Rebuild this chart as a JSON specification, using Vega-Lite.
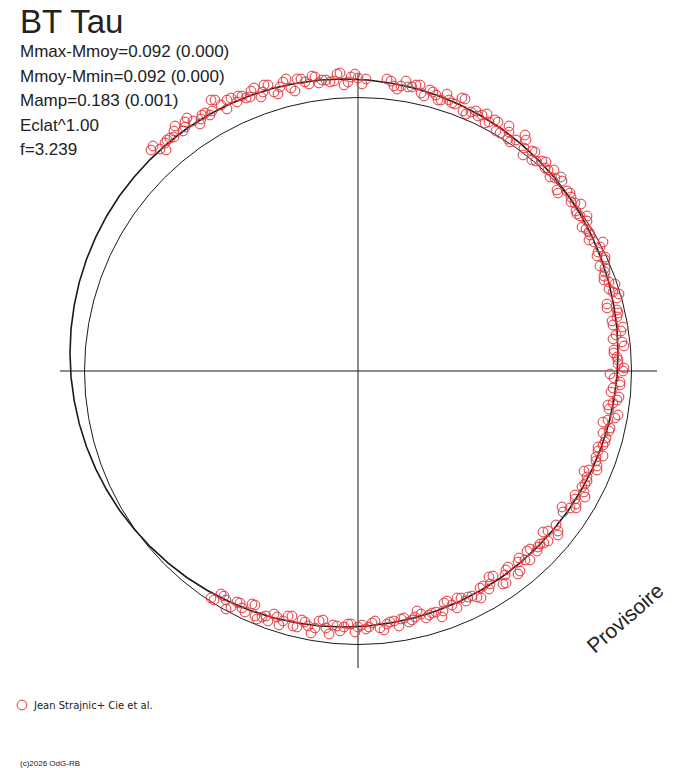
{
  "$schema": "https://vega.github.io/schema/vega-lite/v6.json",
  "description": "BT Tau phase diagram",
  "width": 688,
  "height": 768,
  "autosize": {"type": "fit", "contains": "padding"},
  "padding": 0,
  "background": "white",
  "config": {"view": {"stroke": null}},
  "datasets": {
    "one": [{}],
    "ref": [
      {"a":0,"x":273.5,"y":0},{"a":5,"x":272.5,"y":23.8},{"a":10,"x":269.3,"y":47.5},{"a":15,"x":264.2,"y":70.8},
      {"a":20,"x":257,"y":93.5},{"a":25,"x":247.9,"y":115.6},{"a":30,"x":236.9,"y":136.8},{"a":35,"x":224.1,"y":156.9},
      {"a":40,"x":209.5,"y":175.8},{"a":45,"x":193.4,"y":193.4},{"a":50,"x":175.8,"y":209.5},{"a":55,"x":156.9,"y":224.1},
      {"a":60,"x":136.8,"y":236.9},{"a":65,"x":115.6,"y":247.9},{"a":70,"x":93.5,"y":257},{"a":75,"x":70.8,"y":264.2},
      {"a":80,"x":47.5,"y":269.3},{"a":85,"x":23.8,"y":272.5},{"a":90,"x":0,"y":273.5},{"a":95,"x":-23.8,"y":272.5},
      {"a":100,"x":-47.5,"y":269.3},{"a":105,"x":-70.8,"y":264.2},{"a":110,"x":-93.5,"y":257},{"a":115,"x":-115.6,"y":247.9},
      {"a":120,"x":-136.8,"y":236.9},{"a":125,"x":-156.9,"y":224.1},{"a":130,"x":-175.8,"y":209.5},{"a":135,"x":-193.4,"y":193.4},
      {"a":140,"x":-209.5,"y":175.8},{"a":145,"x":-224.1,"y":156.9},{"a":150,"x":-236.9,"y":136.8},{"a":155,"x":-247.9,"y":115.6},
      {"a":160,"x":-257,"y":93.5},{"a":165,"x":-264.2,"y":70.8},{"a":170,"x":-269.3,"y":47.5},{"a":175,"x":-272.5,"y":23.8},
      {"a":180,"x":-273.5,"y":0},{"a":185,"x":-272.5,"y":-23.8},{"a":190,"x":-269.3,"y":-47.5},{"a":195,"x":-264.2,"y":-70.8},
      {"a":200,"x":-257,"y":-93.5},{"a":205,"x":-247.9,"y":-115.6},{"a":210,"x":-236.9,"y":-136.8},{"a":215,"x":-224.1,"y":-156.9},
      {"a":220,"x":-209.5,"y":-175.8},{"a":225,"x":-193.4,"y":-193.4},{"a":230,"x":-175.8,"y":-209.5},{"a":235,"x":-156.9,"y":-224.1},
      {"a":240,"x":-136.8,"y":-236.9},{"a":245,"x":-115.6,"y":-247.9},{"a":250,"x":-93.5,"y":-257},{"a":255,"x":-70.8,"y":-264.2},
      {"a":260,"x":-47.5,"y":-269.3},{"a":265,"x":-23.8,"y":-272.5},{"a":270,"x":0,"y":-273.5},{"a":275,"x":23.8,"y":-272.5},
      {"a":280,"x":47.5,"y":-269.3},{"a":285,"x":70.8,"y":-264.2},{"a":290,"x":93.5,"y":-257},{"a":295,"x":115.6,"y":-247.9},
      {"a":300,"x":136.8,"y":-236.9},{"a":305,"x":156.9,"y":-224.1},{"a":310,"x":175.8,"y":-209.5},{"a":315,"x":193.4,"y":-193.4},
      {"a":320,"x":209.5,"y":-175.8},{"a":325,"x":224.1,"y":-156.9},{"a":330,"x":236.9,"y":-136.8},{"a":335,"x":247.9,"y":-115.6},
      {"a":340,"x":257,"y":-93.5},{"a":345,"x":264.2,"y":-70.8},{"a":350,"x":269.3,"y":-47.5},{"a":355,"x":272.5,"y":-23.8},
      {"a":360,"x":273.5,"y":0}
    ],
    "fit": [
      {"a":0,"x":260,"y":18},{"a":5,"x":259,"y":41.9},{"a":10,"x":255.8,"y":65.6},{"a":15,"x":250.7,"y":88.9},
      {"a":20,"x":243.5,"y":111.7},{"a":25,"x":234.3,"y":133.8},{"a":30,"x":223.3,"y":155},{"a":35,"x":210.5,"y":175.2},
      {"a":40,"x":195.9,"y":194.1},{"a":45,"x":179.7,"y":211.7},{"a":50,"x":162.1,"y":227.9},{"a":55,"x":143.2,"y":242.5},
      {"a":60,"x":123,"y":255.3},{"a":65,"x":101.8,"y":266.3},{"a":70,"x":79.7,"y":275.5},{"a":75,"x":56.9,"y":282.7},
      {"a":80,"x":33.6,"y":287.8},{"a":85,"x":9.9,"y":291},{"a":90,"x":-14,"y":292},{"a":95,"x":-37.9,"y":291},
      {"a":100,"x":-61.6,"y":287.8},{"a":105,"x":-84.9,"y":282.7},{"a":110,"x":-107.7,"y":275.5},{"a":115,"x":-129.8,"y":266.3},
      {"a":120,"x":-151,"y":255.3},{"a":125,"x":-171.2,"y":242.5},{"a":130,"x":-190.1,"y":227.9},{"a":135,"x":-207.7,"y":211.7},
      {"a":140,"x":-223.9,"y":194.1},{"a":145,"x":-238.5,"y":175.2},{"a":150,"x":-251.3,"y":155},{"a":155,"x":-262.3,"y":133.8},
      {"a":160,"x":-271.5,"y":111.7},{"a":165,"x":-278.7,"y":88.9},{"a":170,"x":-283.8,"y":65.6},{"a":175,"x":-287,"y":41.9},
      {"a":180,"x":-288,"y":18},{"a":185,"x":-287,"y":-5.9},{"a":190,"x":-283.8,"y":-29.6},{"a":195,"x":-278.7,"y":-52.9},
      {"a":200,"x":-271.5,"y":-75.7},{"a":205,"x":-262.3,"y":-97.8},{"a":210,"x":-251.3,"y":-119},{"a":215,"x":-238.5,"y":-139.2},
      {"a":220,"x":-223.9,"y":-158.1},{"a":225,"x":-207.7,"y":-175.7},{"a":230,"x":-190.1,"y":-191.9},{"a":235,"x":-171.2,"y":-206.5},
      {"a":240,"x":-151,"y":-219.3},{"a":245,"x":-129.8,"y":-230.3},{"a":250,"x":-107.7,"y":-239.5},{"a":255,"x":-84.9,"y":-246.7},
      {"a":260,"x":-61.6,"y":-251.8},{"a":265,"x":-37.9,"y":-255},{"a":270,"x":-14,"y":-256},{"a":275,"x":9.9,"y":-255},
      {"a":280,"x":33.6,"y":-251.8},{"a":285,"x":56.9,"y":-246.7},{"a":290,"x":79.7,"y":-239.5},{"a":295,"x":101.8,"y":-230.3},
      {"a":300,"x":123,"y":-219.3},{"a":305,"x":143.2,"y":-206.5},{"a":310,"x":162.1,"y":-191.9},{"a":315,"x":179.7,"y":-175.7},
      {"a":320,"x":195.9,"y":-158.1},{"a":325,"x":210.5,"y":-139.2},{"a":330,"x":223.3,"y":-119},{"a":335,"x":234.3,"y":-97.8},
      {"a":340,"x":243.5,"y":-75.7},{"a":345,"x":250.7,"y":-52.9},{"a":350,"x":255.8,"y":-29.6},{"a":355,"x":259,"y":-5.9},
      {"a":360,"x":260,"y":18}
    ],
    "obs": [
      {"x":-207,"y":221,"src":"A"},{"x":-198,"y":222,"src":"A"},{"x":-193,"y":228,"src":"A"},{"x":-188,"y":233,"src":"A"},
      {"x":-184,"y":240,"src":"A"},{"x":-175,"y":240,"src":"A"},{"x":-173,"y":249,"src":"A"},{"x":-165,"y":250,"src":"A"},
      {"x":-157,"y":252,"src":"A"},{"x":-153,"y":258,"src":"A"},{"x":-146,"y":260,"src":"A"},{"x":-143,"y":271,"src":"A"},
      {"x":-131,"y":262,"src":"A"},{"x":-127,"y":273,"src":"A"},{"x":-120,"y":275,"src":"A"},{"x":-112,"y":273,"src":"A"},
      {"x":-107,"y":280,"src":"A"},{"x":-97,"y":274,"src":"A"},{"x":-94,"y":286,"src":"A"},{"x":-84,"y":279,"src":"A"},
      {"x":-78,"y":284,"src":"A"},{"x":-72,"y":292,"src":"A"},{"x":-63,"y":280,"src":"A"},{"x":-57,"y":292,"src":"A"},
      {"x":-49,"y":287,"src":"A"},{"x":-43,"y":294,"src":"A"},{"x":-36,"y":291,"src":"B"},{"x":-28,"y":289,"src":"A"},
      {"x":-21,"y":297,"src":"A"},{"x":-14,"y":286,"src":"A"},{"x":-7,"y":294,"src":"A"},{"x":0,"y":293,"src":"A"},
      {"x":8,"y":292,"src":"A"},{"x":29,"y":292,"src":"A"},{"x":36,"y":285,"src":"A"},{"x":43,"y":285,"src":"A"},
      {"x":50,"y":284,"src":"B"},{"x":58,"y":286,"src":"A"},{"x":63,"y":278,"src":"A"},{"x":72,"y":281,"src":"A"},
      {"x":78,"y":276,"src":"A"},{"x":83,"y":271,"src":"A"},{"x":91,"y":271,"src":"A"},{"x":97,"y":267,"src":"A"},
      {"x":107,"y":272,"src":"A"},{"x":108,"y":257,"src":"A"},{"x":118,"y":260,"src":"A"},{"x":124,"y":256,"src":"A"},
      {"x":127,"y":248,"src":"A"},{"x":137,"y":251,"src":"A"},{"x":138,"y":240,"src":"A"},{"x":151,"y":245,"src":"A"},
      {"x":150,"y":232,"src":"A"},{"x":158,"y":231,"src":"A"},{"x":168,"y":231,"src":"A"},{"x":165,"y":216,"src":"A"},
      {"x":177,"y":219,"src":"A"},{"x":178,"y":210,"src":"A"},{"x":188,"y":209,"src":"A"},{"x":190,"y":201,"src":"A"},
      {"x":192,"y":194,"src":"A"},{"x":203,"y":194,"src":"B"},{"x":199,"y":181,"src":"A"},{"x":209,"y":180,"src":"A"},
      {"x":213,"y":174,"src":"A"},{"x":217,"y":168,"src":"A"},{"x":218,"y":160,"src":"A"},{"x":222,"y":155,"src":"A"},
      {"x":229,"y":150,"src":"A"},{"x":228,"y":142,"src":"A"},{"x":232,"y":136,"src":"A"},{"x":236,"y":129,"src":"A"},
      {"x":242,"y":124,"src":"A"},{"x":239,"y":115,"src":"A"},{"x":247,"y":111,"src":"A"},{"x":247,"y":103,"src":"B"},
      {"x":246,"y":95,"src":"A"},{"x":251,"y":89,"src":"A"},{"x":251,"y":82,"src":"A"},{"x":261,"y":77,"src":"A"},
      {"x":249,"y":67,"src":"A"},{"x":259,"y":61,"src":"A"},{"x":259,"y":54,"src":"A"},{"x":255,"y":46,"src":"A"},
      {"x":263,"y":40,"src":"A"},{"x":255,"y":32,"src":"A"},{"x":266,"y":25,"src":"A"},{"x":256,"y":18,"src":"A"},
      {"x":260,"y":11,"src":"A"},{"x":266,"y":3,"src":"A"},{"x":252,"y":-3,"src":"A"},{"x":262,"y":-11,"src":"A"},
      {"x":255,"y":-17,"src":"A"},{"x":261,"y":-26,"src":"A"},{"x":255,"y":-32,"src":"A"},{"x":251,"y":-38,"src":"A"},
      {"x":257,"y":-47,"src":"A"},{"x":245,"y":-51,"src":"A"},{"x":251,"y":-60,"src":"A"},{"x":248,"y":-67,"src":"A"},
      {"x":245,"y":-74,"src":"A"},{"x":240,"y":-80,"src":"A"},{"x":238,"y":-86,"src":"A"},{"x":239,"y":-95,"src":"A"},
      {"x":231,"y":-99,"src":"A"},{"x":229,"y":-106,"src":"A"},{"x":227,"y":-113,"src":"A"},{"x":226,"y":-121,"src":"A"},
      {"x":217,"y":-124,"src":"A"},{"x":218,"y":-133,"src":"A"},{"x":212,"y":-137,"src":"A"},{"x":205,"y":-141,"src":"B"},
      {"x":198,"y":-154,"src":"A"},{"x":200,"y":-164,"src":"A"},{"x":185,"y":-161,"src":"A"},{"x":186,"y":-172,"src":"A"},
      {"x":180,"y":-176,"src":"A"},{"x":172,"y":-178,"src":"A"},{"x":172,"y":-189,"src":"A"},{"x":161,"y":-187,"src":"A"},
      {"x":162,"y":-200,"src":"A"},{"x":150,"y":-196,"src":"A"},{"x":147,"y":-204,"src":"A"},{"x":145,"y":-213,"src":"A"},
      {"x":131,"y":-206,"src":"A"},{"x":131,"y":-218,"src":"A"},{"x":122,"y":-217,"src":"A"},{"x":119,"y":-226,"src":"A"},
      {"x":110,"y":-226,"src":"B"},{"x":103,"y":-227,"src":"A"},{"x":99,"y":-237,"src":"A"},{"x":89,"y":-230,"src":"A"},
      {"x":85,"y":-240,"src":"A"},{"x":78,"y":-241,"src":"A"},{"x":71,"y":-244,"src":"A"},{"x":63,"y":-243,"src":"A"},
      {"x":57,"y":-246,"src":"A"},{"x":51,"y":-251,"src":"B"},{"x":43,"y":-248,"src":"A"},{"x":36,"y":-250,"src":"A"},
      {"x":29,"y":-253,"src":"A"},{"x":22,"y":-257,"src":"A"},{"x":14,"y":-252,"src":"A"},{"x":8,"y":-258,"src":"A"},
      {"x":0,"y":-256,"src":"A"},{"x":-7,"y":-253,"src":"A"},{"x":-14,"y":-256,"src":"A"},{"x":-21,"y":-255,"src":"A"},
      {"x":-29,"y":-263,"src":"A"},{"x":-35,"y":-249,"src":"A"},{"x":-43,"y":-257,"src":"A"},{"x":-50,"y":-255,"src":"A"},
      {"x":-56,"y":-249,"src":"A"},{"x":-65,"y":-255,"src":"A"},{"x":-70,"y":-245,"src":"A"},{"x":-79,"y":-254,"src":"A"},
      {"x":-84,"y":-243,"src":"A"},{"x":-92,"y":-245,"src":"A"},{"x":-101,"y":-248,"src":"A"},{"x":-103,"y":-234,"src":"A"},
      {"x":-113,"y":-241,"src":"A"},{"x":-118,"y":-232,"src":"A"},{"x":-127,"y":-236,"src":"A"},{"x":-132,"y":-229,"src":"B"},
      {"x":-137,"y":-223,"src":"A"},{"x":-147,"y":-227,"src":"A"},
      {"x":-205,"y":225,"src":"A"},{"x":-192,"y":221,"src":"A"},{"x":-191,"y":231,"src":"A"},{"x":-184,"y":234,"src":"A"},
      {"x":-183,"y":245,"src":"A"},{"x":-173,"y":244,"src":"A"},{"x":-171,"y":253,"src":"A"},{"x":-158,"y":247,"src":"A"},
      {"x":-156,"y":256,"src":"A"},{"x":-148,"y":256,"src":"A"},{"x":-147,"y":271,"src":"A"},{"x":-137,"y":266,"src":"A"},
      {"x":-131,"y":271,"src":"A"},{"x":-121,"y":269,"src":"A"},{"x":-116,"y":275,"src":"A"},{"x":-108,"y":274,"src":"A"},
      {"x":-104,"y":283,"src":"A"},{"x":-95,"y":279,"src":"A"},{"x":-90,"y":286,"src":"A"},{"x":-80,"y":277,"src":"A"},
      {"x":-75,"y":289,"src":"A"},{"x":-67,"y":283,"src":"A"},{"x":-61,"y":292,"src":"A"},{"x":-53,"y":289,"src":"A"},
      {"x":-46,"y":295,"src":"A"},{"x":-39,"y":288,"src":"A"},{"x":-32,"y":291,"src":"A"},{"x":-24,"y":290,"src":"A"},
      {"x":-18,"y":298,"src":"A"},{"x":-10,"y":289,"src":"A"},{"x":-3,"y":297,"src":"A"},{"x":4,"y":287,"src":"A"},
      {"x":33,"y":290,"src":"A"},{"x":39,"y":282,"src":"A"},{"x":48,"y":290,"src":"A"},{"x":54,"y":284,"src":"A"},
      {"x":62,"y":286,"src":"A"},{"x":66,"y":275,"src":"A"},{"x":75,"y":279,"src":"A"},{"x":80,"y":271,"src":"A"},
      {"x":89,"y":277,"src":"A"},{"x":94,"y":268,"src":"A"},{"x":104,"y":273,"src":"A"},{"x":105,"y":260,"src":"A"},
      {"x":113,"y":259,"src":"A"},{"x":120,"y":255,"src":"A"},{"x":129,"y":257,"src":"A"},{"x":131,"y":249,"src":"A"},
      {"x":140,"y":249,"src":"A"},{"x":142,"y":238,"src":"A"},{"x":151,"y":239,"src":"A"},{"x":152,"y":229,"src":"A"},
      {"x":167,"y":236,"src":"A"},{"x":166,"y":223,"src":"A"},{"x":174,"y":220,"src":"A"},{"x":174,"y":211,"src":"A"},
      {"x":184,"y":210,"src":"A"},{"x":187,"y":203,"src":"A"},{"x":196,"y":201,"src":"A"},{"x":197,"y":193,"src":"A"},
      {"x":204,"y":190,"src":"A"},{"x":200,"y":178,"src":"A"},{"x":212,"y":178,"src":"A"},{"x":213,"y":169,"src":"A"},
      {"x":223,"y":167,"src":"A"},{"x":219,"y":157,"src":"A"},{"x":229,"y":155,"src":"A"},{"x":224,"y":144,"src":"A"},
      {"x":231,"y":139,"src":"A"},{"x":231,"y":131,"src":"A"},{"x":245,"y":129,"src":"A"},{"x":240,"y":119,"src":"A"},
      {"x":247,"y":114,"src":"A"},{"x":242,"y":105,"src":"A"},{"x":247,"y":99,"src":"A"},{"x":246,"y":91,"src":"A"},
      {"x":257,"y":87,"src":"A"},{"x":255,"y":79,"src":"A"},{"x":259,"y":73,"src":"A"},{"x":249,"y":63,"src":"A"},
      {"x":260,"y":58,"src":"A"},{"x":254,"y":50,"src":"A"},{"x":265,"y":44,"src":"A"},{"x":258,"y":36,"src":"A"},
      {"x":264,"y":29,"src":"A"},{"x":256,"y":21,"src":"A"},{"x":259,"y":14,"src":"A"},{"x":260,"y":7,"src":"A"},
      {"x":265,"y":0,"src":"A"},{"x":256,"y":-7,"src":"A"},{"x":262,"y":-14,"src":"A"},{"x":253,"y":-21,"src":"A"},
      {"x":259,"y":-29,"src":"A"},{"x":250,"y":-34,"src":"A"},{"x":260,"y":-44,"src":"A"},{"x":250,"y":-49,"src":"A"},
      {"x":252,"y":-57,"src":"A"},{"x":245,"y":-62,"src":"A"},{"x":247,"y":-71,"src":"A"},{"x":240,"y":-76,"src":"A"},
      {"x":245,"y":-85,"src":"A"},{"x":238,"y":-90,"src":"A"},{"x":239,"y":-99,"src":"A"},{"x":226,"y":-100,"src":"A"},
      {"x":229,"y":-110,"src":"A"},{"x":224,"y":-116,"src":"A"},{"x":227,"y":-126,"src":"A"},{"x":217,"y":-128,"src":"A"},
      {"x":218,"y":-137,"src":"A"},{"x":204,"y":-136,"src":"A"},{"x":200,"y":-160,"src":"A"},{"x":190,"y":-160,"src":"A"},
      {"x":190,"y":-170,"src":"A"},{"x":182,"y":-173,"src":"A"},{"x":179,"y":-180,"src":"A"},{"x":169,"y":-180,"src":"A"},
      {"x":167,"y":-189,"src":"A"},{"x":160,"y":-191,"src":"A"},{"x":160,"y":-203,"src":"A"},{"x":148,"y":-199,"src":"A"},
      {"x":148,"y":-212,"src":"A"},{"x":135,"y":-205,"src":"A"},{"x":132,"y":-213,"src":"A"},{"x":125,"y":-215,"src":"A"},
      {"x":123,"y":-227,"src":"A"},{"x":114,"y":-225,"src":"A"},{"x":108,"y":-230,"src":"A"},{"x":99,"y":-227,"src":"A"},
      {"x":94,"y":-234,"src":"A"},{"x":86,"y":-232,"src":"A"},{"x":84,"y":-246,"src":"A"},{"x":74,"y":-242,"src":"A"},
      {"x":68,"y":-247,"src":"A"},{"x":59,"y":-240,"src":"A"},{"x":54,"y":-249,"src":"A"},{"x":46,"y":-247,"src":"A"},
      {"x":41,"y":-255,"src":"A"},{"x":32,"y":-251,"src":"A"},{"x":26,"y":-259,"src":"A"},{"x":17,"y":-250,"src":"A"},
      {"x":11,"y":-256,"src":"A"},{"x":4,"y":-254,"src":"A"},{"x":-3,"y":-261,"src":"A"},{"x":-10,"y":-253,"src":"A"},
      {"x":-18,"y":-260,"src":"A"},{"x":-25,"y":-254,"src":"A"},{"x":-32,"y":-257,"src":"A"},{"x":-39,"y":-250,"src":"A"},
      {"x":-47,"y":-262,"src":"A"},{"x":-53,"y":-251,"src":"A"},{"x":-61,"y":-256,"src":"A"},{"x":-66,"y":-245,"src":"A"},
      {"x":-75,"y":-250,"src":"A"},{"x":-81,"y":-246,"src":"A"},{"x":-90,"y":-250,"src":"A"},{"x":-96,"y":-246,"src":"A"},
      {"x":-103,"y":-245,"src":"A"},{"x":-106,"y":-233,"src":"A"},{"x":-116,"y":-237,"src":"A"},{"x":-121,"y":-231,"src":"A"},
      {"x":-132,"y":-238,"src":"A"},{"x":-134,"y":-225,"src":"A"},{"x":-144,"y":-229,"src":"A"}
    ]
  },
  "layer": [
    {
      "data": {"name": "one"},
      "mark": {"type": "rule", "color": "#1a1a1a", "strokeWidth": 1},
      "encoding": {
        "x": {"datum": -298, "type": "quantitative", "axis": null, "scale": {"domain": [-358, 330], "nice": false, "zero": false}},
        "x2": {"datum": 299},
        "y": {"datum": 0, "type": "quantitative", "axis": null, "scale": {"domain": [-397, 371], "nice": false, "zero": false}}
      }
    },
    {
      "data": {"name": "one"},
      "mark": {"type": "rule", "color": "#1a1a1a", "strokeWidth": 1},
      "encoding": {
        "x": {"datum": 0, "type": "quantitative", "axis": null},
        "y": {"datum": 298, "type": "quantitative", "axis": null},
        "y2": {"datum": -297}
      }
    },
    {
      "data": {"name": "ref"},
      "mark": {"type": "line", "color": "#1a1a1a", "strokeWidth": 1},
      "encoding": {
        "x": {"field": "x", "type": "quantitative", "axis": null},
        "y": {"field": "y", "type": "quantitative", "axis": null},
        "order": {"field": "a", "type": "quantitative"}
      }
    },
    {
      "data": {"name": "fit"},
      "mark": {"type": "line", "color": "#1a1a1a", "strokeWidth": 1.6},
      "encoding": {
        "x": {"field": "x", "type": "quantitative", "axis": null},
        "y": {"field": "y", "type": "quantitative", "axis": null},
        "order": {"field": "a", "type": "quantitative"}
      }
    },
    {
      "data": {"name": "obs"},
      "mark": {"type": "point", "shape": "circle", "filled": false, "size": 95, "strokeWidth": 1, "opacity": 1},
      "encoding": {
        "x": {"field": "x", "type": "quantitative", "axis": null},
        "y": {"field": "y", "type": "quantitative", "axis": null},
        "color": {"field": "src", "type": "nominal", "legend": null,
          "scale": {"domain": ["A", "B"], "range": ["#e8343a", "#6a6a6a"]}}
      }
    },
    {
      "data": {"name": "one"},
      "mark": {"type": "text", "text": "BT Tau", "align": "left", "baseline": "alphabetic",
        "font": "Liberation Sans", "fontSize": 33, "color": "#222222"},
      "encoding": {
        "x": {"datum": -338, "type": "quantitative", "axis": null},
        "y": {"datum": 338, "type": "quantitative", "axis": null}
      }
    },
    {
      "data": {"name": "one"},
      "mark": {"type": "text",
        "text": ["Mmax-Mmoy=0.092 (0.000)", "Mmoy-Mmin=0.092 (0.000)", "Mamp=0.183 (0.001)", "Eclat^1.00", "f=3.239"],
        "align": "left", "baseline": "alphabetic", "lineHeight": 24.6,
        "font": "Liberation Sans", "fontSize": 17, "color": "#222222"},
      "encoding": {
        "x": {"datum": -338, "type": "quantitative", "axis": null},
        "y": {"datum": 314, "type": "quantitative", "axis": null}
      }
    },
    {
      "data": {"name": "one"},
      "mark": {"type": "point", "shape": "circle", "filled": false, "size": 95, "strokeWidth": 1, "opacity": 1, "color": "#e8343a"},
      "encoding": {
        "x": {"datum": -336, "type": "quantitative", "axis": null},
        "y": {"datum": -334, "type": "quantitative", "axis": null}
      }
    },
    {
      "data": {"name": "one"},
      "mark": {"type": "text", "text": "Jean Strajnic+ Cie et al.", "align": "left", "baseline": "alphabetic",
        "font": "DejaVu Sans", "fontSize": 10, "color": "#222222"},
      "encoding": {
        "x": {"datum": -324, "type": "quantitative", "axis": null},
        "y": {"datum": -338, "type": "quantitative", "axis": null}
      }
    },
    {
      "data": {"name": "one"},
      "mark": {"type": "text", "text": "(c)2026 OdG-RB", "align": "left", "baseline": "alphabetic",
        "font": "Liberation Sans", "fontSize": 8, "color": "#222222"},
      "encoding": {
        "x": {"datum": -338, "type": "quantitative", "axis": null},
        "y": {"datum": -395, "type": "quantitative", "axis": null}
      }
    },
    {
      "data": {"name": "one"},
      "mark": {"type": "text", "text": "Provisoire", "align": "center", "baseline": "middle", "angle": -41,
        "font": "Liberation Sans", "fontSize": 21, "color": "#222222"},
      "encoding": {
        "x": {"datum": 268, "type": "quantitative", "axis": null},
        "y": {"datum": -248, "type": "quantitative", "axis": null}
      }
    }
  ]
}
